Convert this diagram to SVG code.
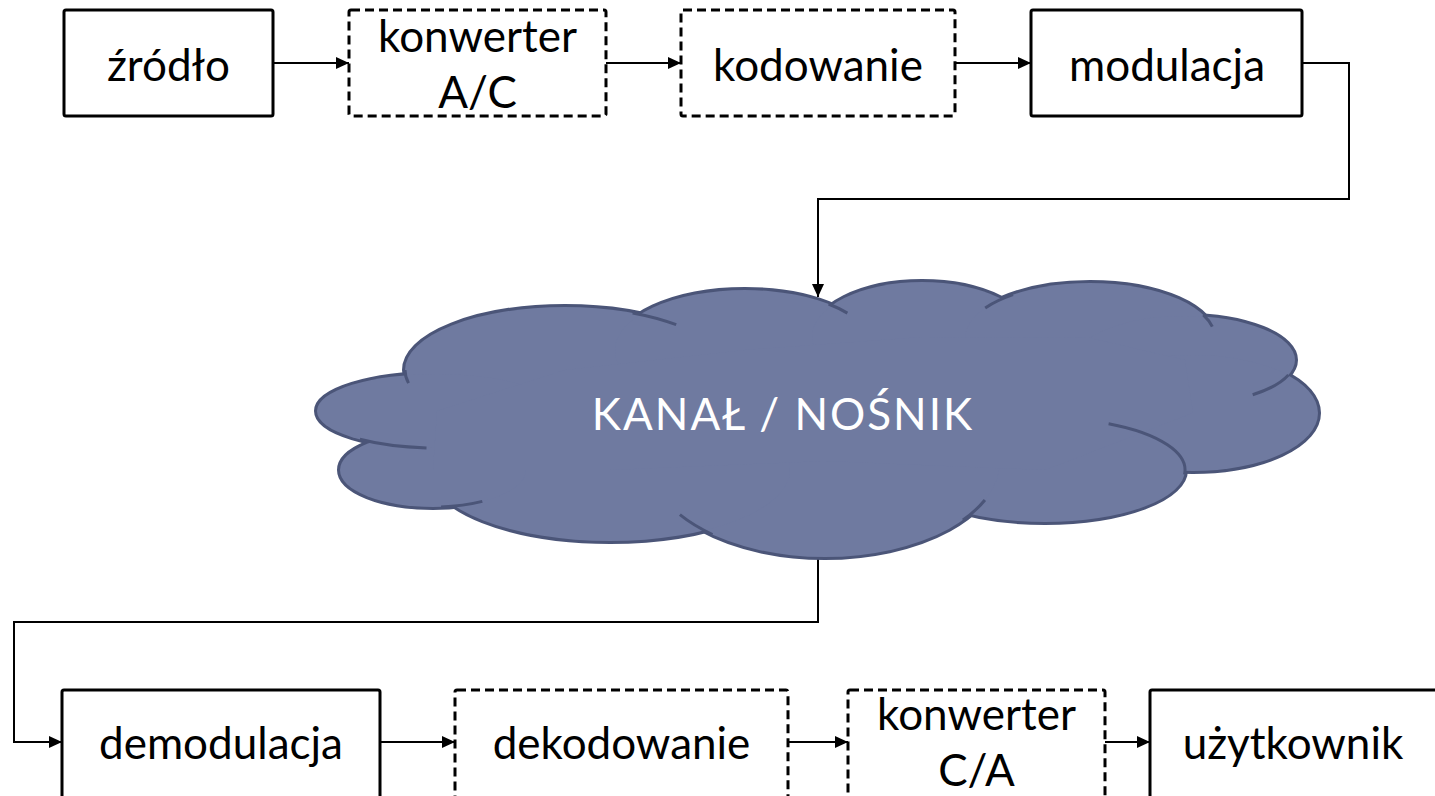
<svg xmlns="http://www.w3.org/2000/svg" xmlns:xlink="http://www.w3.org/1999/xlink" width="1435" height="796" viewBox="0 0 1435 796">
<style>
.box{fill:#fff;stroke:#000;stroke-width:3}
.dash{stroke-dasharray:9 5}
.lbl{font-family:Lato,"Open Sans","Liberation Sans",sans-serif;font-size:44px;fill:#000;text-anchor:middle}
.conn{fill:none;stroke:#000;stroke-width:2}
.cl-stroke{fill:#6F7AA0;stroke:#4B5578;stroke-width:6}
.cl-fill{fill:#6F7AA0;stroke:none}
.cl-tick{fill:none;stroke:#4B5578;stroke-width:3}
.cl-text{font-family:Lato,"Open Sans","Liberation Sans",sans-serif;font-size:44px;fill:#fff;text-anchor:middle;letter-spacing:2px}
</style>
<defs>
<marker id="arr" markerUnits="userSpaceOnUse" markerWidth="14" markerHeight="12" refX="13" refY="6" orient="auto">
<path d="M0,0 L13,6 L0,12 Z" fill="#000"/>
</marker>
<g id="lobes">
<ellipse cx="565" cy="370" rx="160" ry="63"/>
<ellipse cx="745" cy="350" rx="130" ry="60"/>
<ellipse cx="922" cy="337" rx="110" ry="55"/>
<ellipse cx="1090" cy="338" rx="125" ry="55"/>
<ellipse cx="1185" cy="360" rx="110" ry="44"/>
<ellipse cx="1193" cy="413" rx="125" ry="58"/>
<ellipse cx="1045" cy="470" rx="140" ry="52"/>
<ellipse cx="825" cy="461" rx="175" ry="96"/>
<ellipse cx="610" cy="470" rx="180" ry="71"/>
<ellipse cx="433" cy="470" rx="93" ry="37"/>
<ellipse cx="437" cy="411" rx="120" ry="37"/>
</g>
</defs>
<rect width="1435" height="796" fill="#fff"/>

<g id="connectors">
<line class="conn" x1="273" y1="63" x2="349" y2="63" marker-end="url(#arr)"/>
<line class="conn" x1="606" y1="63" x2="681" y2="63" marker-end="url(#arr)"/>
<line class="conn" x1="955" y1="63" x2="1031" y2="63" marker-end="url(#arr)"/>
<polyline class="conn" points="1302,63 1349,63 1349,199 818,199 818,297" marker-end="url(#arr)"/>
<polyline class="conn" points="818,556 818,622 14,622 14,742 62,742" marker-end="url(#arr)"/>
<line class="conn" x1="380" y1="742" x2="455" y2="742" marker-end="url(#arr)"/>
<line class="conn" x1="788" y1="742" x2="848" y2="742" marker-end="url(#arr)"/>
<line class="conn" x1="1105" y1="742" x2="1150" y2="742" marker-end="url(#arr)"/>
</g>

<g id="zrodlo">
<rect class="box" x="64" y="10" width="209" height="106" rx="2"/>
<text class="lbl" x="168.5" y="81">źródło</text>
</g>
<g id="konwerter-ac">
<rect class="box dash" x="349" y="10" width="257" height="106" rx="2"/>
<text class="lbl" x="477.5" y="52">konwerter</text>
<text class="lbl" x="477.5" y="108">A/C</text>
</g>
<g id="kodowanie">
<rect class="box dash" x="681" y="10" width="274" height="106" rx="2"/>
<text class="lbl" x="818" y="81">kodowanie</text>
</g>
<g id="modulacja">
<rect class="box" x="1031" y="10" width="271" height="106" rx="2"/>
<text class="lbl" x="1167" y="81">modulacja</text>
</g>

<g id="kanal">
<use xlink:href="#lobes" href="#lobes" class="cl-stroke"/>
<use xlink:href="#lobes" href="#lobes" class="cl-fill"/>
<polygon class="cl-fill" points="565,370 745,350 922,337 1090,338 1185,360 1193,413 1045,470 825,461 610,470 433,470 437,411"/>
<path class="cl-tick" d="M405,370 A160,63 0 0 0 408.5,383.1 M359.9,439.3 A120,37 0 0 0 426.5,447.9 M441.1,506.9 A93,37 0 0 0 482.3,501.4 M712.5,534.5 A175,96 0 0 1 679.9,514.7 M962.9,520.1 A175,96 0 0 0 984.9,500 M1108.6,423.7 A140,52 0 0 1 1184.5,474.5 M1288.4,375 A110,44 0 0 1 1252.7,394.7 M1203.3,314.8 A125,55 0 0 1 1212.3,326.6 M985.2,308 A125,55 0 0 1 1013,294.7 M828.6,304 A130,60 0 0 1 847.4,313.1 M632.6,312.9 A160,63 0 0 1 676.2,324.7"/>
<text class="cl-text" x="783" y="430">KANAŁ / NOŚNIK</text>
</g>

<g id="demodulacja">
<rect class="box" x="62" y="690" width="318" height="112" rx="2"/>
<text class="lbl" x="221" y="759">demodulacja</text>
</g>
<g id="dekodowanie">
<rect class="box dash" x="455" y="690" width="333" height="112" rx="2"/>
<text class="lbl" x="621.5" y="759">dekodowanie</text>
</g>
<g id="konwerter-ca">
<rect class="box dash" x="848" y="690" width="257" height="112" rx="2"/>
<text class="lbl" x="976.5" y="730">konwerter</text>
<text class="lbl" x="976.5" y="786">C/A</text>
</g>
<g id="uzytkownik">
<rect class="box" x="1150" y="690" width="295" height="112" rx="2"/>
<text class="lbl" x="1293" y="759">użytkownik</text>
</g>
</svg>
